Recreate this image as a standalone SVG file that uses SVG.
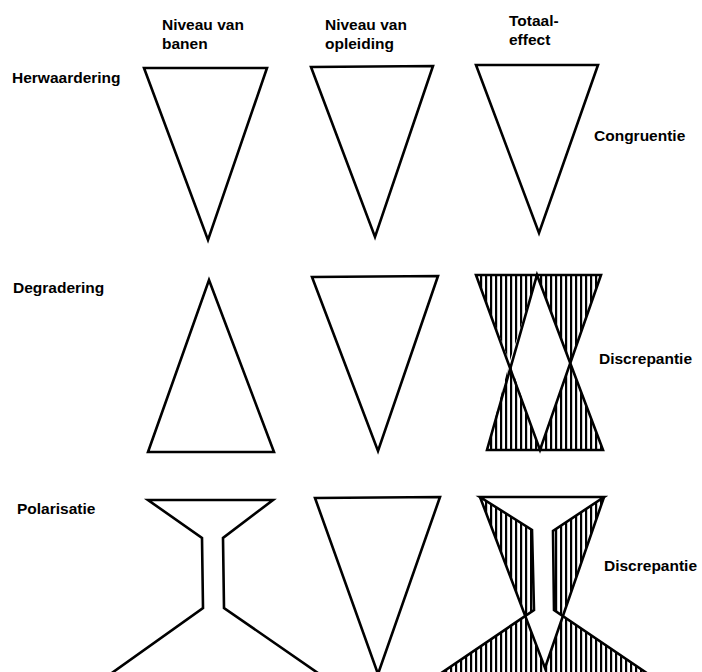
<svg xmlns="http://www.w3.org/2000/svg" width="702" height="672" viewBox="0 0 702 672">
<defs>
<pattern id="hatch" width="5" height="10" patternUnits="userSpaceOnUse">
<rect x="0" y="0" width="2.2" height="10" fill="#000"/>
</pattern>
</defs>
<style>
text{font-family:"Liberation Sans",Arial,sans-serif;font-weight:bold;font-size:15.5px;fill:#000}
.o{fill:none;stroke:#000;stroke-width:2.6;stroke-linejoin:miter}
.h{fill:url(#hatch);stroke:none}
</style>
<rect width="702" height="672" fill="#fff"/>
<g id="headers">
<g id="hdr-banen"><text x="162" y="30">Niveau van</text><text x="162" y="49">banen</text></g>
<g id="hdr-opleiding"><text x="325" y="30">Niveau van</text><text x="325" y="49">opleiding</text></g>
<g id="hdr-totaal"><text x="509" y="26">Totaal-</text><text x="509" y="45">effect</text></g>
</g>
<g id="row-labels">
<text id="lbl-herwaardering" x="12" y="83">Herwaardering</text>
<text id="lbl-degradering" x="13" y="293">Degradering</text>
<text id="lbl-polarisatie" x="17" y="514">Polarisatie</text>
</g>
<g id="result-labels">
<text id="lbl-congruentie" x="594" y="141">Congruentie</text>
<text id="lbl-discrepantie1" x="599" y="364">Discrepantie</text>
<text id="lbl-discrepantie2" x="604" y="571">Discrepantie</text>
</g>
<g id="r1c1"><polygon class="o" points="144,68 267,68 208,240"/></g>
<g id="r1c2"><polygon class="o" points="311,67 433,66 375,237"/></g>
<g id="r1c3"><polygon class="o" points="476,65 598,65 539,233"/></g>
<g id="r2c1"><polygon class="o" points="209,280 274,452 148,452"/></g>
<g id="r2c2"><polygon class="o" points="312,277 438,276 378,451"/></g>
<g id="r2c3">
<polygon class="h" points="476,275 537,275 509.5,362"/>
<polygon class="h" points="537,275 601,275 570,363"/>
<polygon class="h" points="509.5,362 540,450 487,450"/>
<polygon class="h" points="570,363 603,450 540,450"/>
<polygon class="o" points="476,275 601,275 540,450"/>
<polygon class="o" points="537,275 603,450 487,450"/>
</g>
<g id="r3c1"><polygon class="o" points="148,500 273,500 223,538 224,608 328,680 102,680 203,608 202,538"/></g>
<g id="r3c2"><polygon class="o" points="315,498 440,497 378,674"/></g>
<g id="r3c3">
<polygon class="h" points="480,497 532,530 534,610 526,616"/>
<polygon class="h" points="604,497 553,531 554,610 563,616"/>
<polygon class="h" points="526,616 431,680 657,680 563,616 545,668"/>
<polygon class="o" points="480,497 604,497 553,531 554,610 657,680 431,680 534,610 532,530"/>
<polyline class="o" points="480,497 545,668 604,497"/>
</g>
</svg>
